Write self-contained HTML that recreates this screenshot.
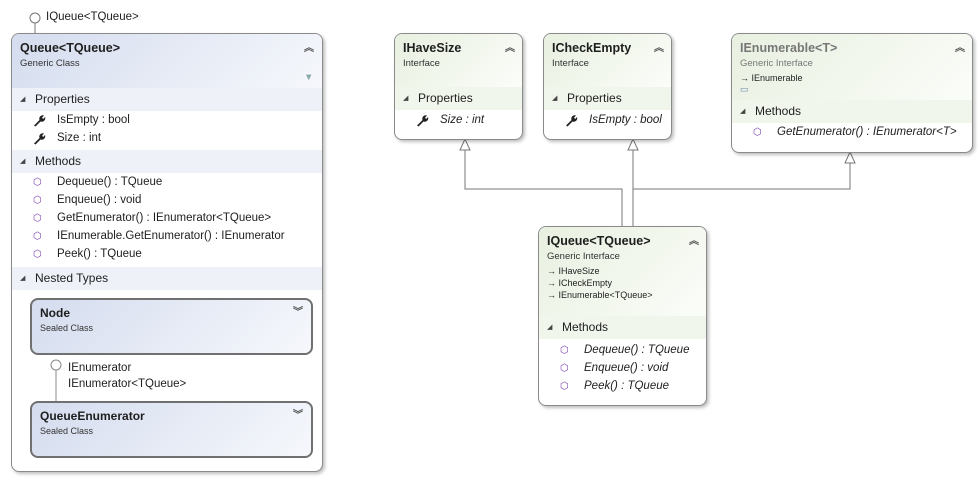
<!DOCTYPE html>
<html><head><meta charset="utf-8"><style>
body{margin:0;width:979px;height:480px;background:#fff;position:relative;overflow:hidden;font-family:"Liberation Sans",sans-serif;color:#1e1e1e}
.box{position:absolute;border:1px solid #8a8a8a;border-radius:8px;background:#fff;box-shadow:2px 2px 3px rgba(0,0,0,.25);overflow:hidden}
.hdr{position:absolute;left:0;right:0;top:0}
.blue{background:linear-gradient(135deg,#d4dcee,#f6f8fc)}
.green{background:linear-gradient(135deg,#e8f0e0,#fbfdf9)}
.t{position:absolute;font-weight:bold;font-size:12.5px}
.s{position:absolute;font-size:9.5px;color:#333}
.sec{position:absolute;left:0;right:0;height:23px;font-size:12px;line-height:23px}
.sb{background:#eef1f8}.sg{background:#f1f6ec}
.sec span{position:absolute;left:8px;font-size:7px;color:#444}
.sec b{font-weight:normal;position:absolute;left:23px}
.it{position:absolute;font-size:11.5px;white-space:nowrap}
.i{font-style:italic}
.ic{position:absolute;font-size:10px;color:#7a3fb0}
.wr{position:absolute;width:13px;height:13px}
.chev{position:absolute;font-size:10px;color:#555;font-weight:bold}
.nb{position:absolute;border:2px solid #707070;border-radius:8px;background:linear-gradient(135deg,#d4dcee,#f6f8fc)}
.sm{position:absolute;font-size:9px;color:#222;white-space:nowrap}
</style></head><body>
<svg width="0" height="0" style="position:absolute"><defs><symbol id="w" viewBox="0 0 13 13"><path d="M1 11.5 L6.5 6 A3.5 3.5 0 0 1 11 1.5 L9 3.8 L10.2 5 L12 3 A3.5 3.5 0 0 1 7.5 7.5 L2.5 12.5 Z" fill="#222"/></symbol></defs></svg>
<svg width="979" height="480" style="position:absolute;left:0;top:0">
<g stroke="#777" fill="none" stroke-width="1">
<circle cx="35" cy="18" r="5"/><line x1="35" y1="23" x2="35" y2="33"/>
<polyline points="465,150 465,189 622,189 622,226"/>
<line x1="633" y1="150" x2="633" y2="226"/>
<polyline points="850,163 850,189 633,189"/>
<polygon points="465,139 460,150 470,150" fill="#fff"/>
<polygon points="633,139 628,150 638,150" fill="#fff"/>
<polygon points="850,152 845,163 855,163" fill="#fff"/>
</g></svg>
<div class="it" style="left:46px;top:11px;font-size:11.5px">IQueue&lt;TQueue&gt;</div>

<div class="box" style="left:11px;top:33px;width:310px;height:437px">
<div class="hdr blue" style="height:54px"></div>
<div class="t" style="left:8px;top:7px">Queue&lt;TQueue&gt;</div>
<div class="s" style="left:8px;top:24px">Generic Class</div>
<div class="chev" style="left:292px;top:5px">︽</div>
<div class="s" style="left:292px;top:38px;color:#8aa">▼</div>
<div class="sec sb" style="top:54px"><span>◢</span><b>Properties</b></div>
<svg class="wr" style="left:21px;top:80px"><use href="#w"/></svg><div class="it" style="left:45px;top:80px">IsEmpty : bool</div>
<svg class="wr" style="left:21px;top:98px"><use href="#w"/></svg><div class="it" style="left:45px;top:98px">Size : int</div>
<div class="sec sb" style="top:116px"><span>◢</span><b>Methods</b></div>
<div class="ic" style="left:21px;top:143px">⬡</div><div class="it" style="left:45px;top:142px">Dequeue() : TQueue</div>
<div class="ic" style="left:21px;top:161px">⬡</div><div class="it" style="left:45px;top:160px">Enqueue() : void</div>
<div class="ic" style="left:21px;top:179px">⬡</div><div class="it" style="left:45px;top:178px">GetEnumerator() : IEnumerator&lt;TQueue&gt;</div>
<div class="ic" style="left:21px;top:197px">⬡</div><div class="it" style="left:45px;top:196px">IEnumerable.GetEnumerator() : IEnumerator</div>
<div class="ic" style="left:21px;top:215px">⬡</div><div class="it" style="left:45px;top:214px">Peek() : TQueue</div>
<div class="sec sb" style="top:233px"><span>◢</span><b>Nested Types</b></div>
<div class="nb" style="left:18px;top:264px;width:279px;height:53px">
<div class="t" style="left:8px;top:6px;font-size:12px">Node</div><div class="s" style="left:8px;top:23px;font-size:9px">Sealed Class</div><div class="chev" style="left:261px;top:3px">︾</div></div>
<svg width="60" height="50" style="position:absolute;left:30px;top:320px"><g stroke="#888" fill="#fff"><circle cx="14" cy="11" r="5"/><line x1="14" y1="16" x2="14" y2="48"/></g></svg>
<div class="it" style="left:56px;top:328px">IEnumerator</div>
<div class="it" style="left:56px;top:344px">IEnumerator&lt;TQueue&gt;</div>
<div class="nb" style="left:18px;top:367px;width:279px;height:53px">
<div class="t" style="left:8px;top:6px;font-size:12px">QueueEnumerator</div><div class="s" style="left:8px;top:23px;font-size:9px">Sealed Class</div><div class="chev" style="left:261px;top:3px">︾</div></div>
</div>

<div class="box" style="left:394px;top:33px;width:127px;height:105px">
<div class="hdr green" style="height:53px"></div>
<div class="t" style="left:8px;top:7px">IHaveSize</div><div class="s" style="left:8px;top:24px">Interface</div>
<div class="chev" style="left:110px;top:5px">︽</div>
<div class="sec sg" style="top:53px"><span>◢</span><b>Properties</b></div>
<svg class="wr" style="left:21px;top:80px"><use href="#w"/></svg><div class="it i" style="left:45px;top:80px">Size : int</div>
</div>

<div class="box" style="left:543px;top:33px;width:127px;height:105px">
<div class="hdr green" style="height:53px"></div>
<div class="t" style="left:8px;top:7px">ICheckEmpty</div><div class="s" style="left:8px;top:24px">Interface</div>
<div class="chev" style="left:110px;top:5px">︽</div>
<div class="sec sg" style="top:53px"><span>◢</span><b>Properties</b></div>
<svg class="wr" style="left:21px;top:80px"><use href="#w"/></svg><div class="it i" style="left:45px;top:80px">IsEmpty : bool</div>
</div>

<div class="box" style="left:731px;top:33px;width:240px;height:118px">
<div class="hdr green" style="height:66px"></div>
<div class="t" style="left:8px;top:7px;color:#777">IEnumerable&lt;T&gt;</div><div class="s" style="left:8px;top:24px;color:#777">Generic Interface</div>
<div class="sm" style="left:8px;top:39px">→ IEnumerable</div>
<div class="sm" style="left:8px;top:50px;color:#68a">▭</div>
<div class="chev" style="left:223px;top:5px">︽</div>
<div class="sec sg" style="top:66px"><span>◢</span><b>Methods</b></div>
<div class="ic" style="left:21px;top:93px">⬡</div><div class="it i" style="left:45px;top:92px">GetEnumerator() : IEnumerator&lt;T&gt;</div>
</div>

<div class="box" style="left:538px;top:226px;width:167px;height:178px">
<div class="hdr green" style="height:89px"></div>
<div class="t" style="left:8px;top:7px">IQueue&lt;TQueue&gt;</div><div class="s" style="left:8px;top:24px">Generic Interface</div>
<div class="sm" style="left:8px;top:39px">→ IHaveSize</div>
<div class="sm" style="left:8px;top:51px">→ ICheckEmpty</div>
<div class="sm" style="left:8px;top:63px">→ IEnumerable&lt;TQueue&gt;</div>
<div class="chev" style="left:150px;top:5px">︽</div>
<div class="sec sg" style="top:89px"><span>◢</span><b>Methods</b></div>
<div class="ic" style="left:21px;top:118px">⬡</div><div class="it i" style="left:45px;top:117px">Dequeue() : TQueue</div>
<div class="ic" style="left:21px;top:136px">⬡</div><div class="it i" style="left:45px;top:135px">Enqueue() : void</div>
<div class="ic" style="left:21px;top:154px">⬡</div><div class="it i" style="left:45px;top:153px">Peek() : TQueue</div>
</div>
</body></html>
